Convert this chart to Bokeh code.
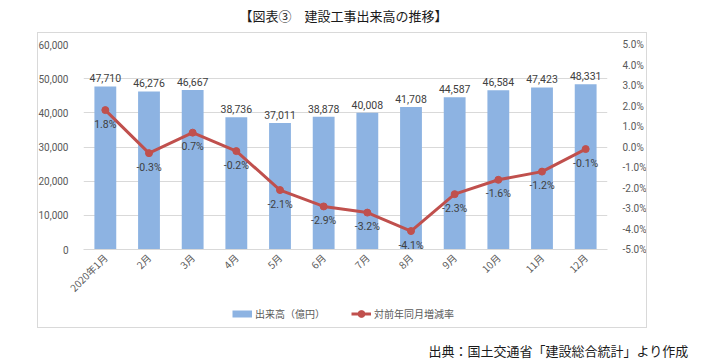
from bokeh.plotting import figure
from bokeh.layouts import column
from bokeh.models import (ColumnDataSource, FactorRange, Range1d, LinearAxis, FixedTicker,
                          NumeralTickFormatter, PrintfTickFormatter, Legend, LegendItem,
                          Label, InlineStyleSheet)
from bokeh.embed import file_html
from bokeh.resources import INLINE
from bokeh.core.properties import value

months = ["2020年1月", "2月", "3月", "4月", "5月", "6月", "7月", "8月", "9月", "10月", "11月", "12月"]
volume = [47710, 46276, 46667, 38736, 37011, 38878, 40008, 41708, 44587, 46584, 47423, 48331]
rate = [1.8, -0.3, 0.7, -0.2, -2.1, -2.9, -3.2, -4.1, -2.3, -1.6, -1.2, -0.1]
left_ticks = [0, 10000, 20000, 30000, 40000, 50000, 60000]
right_ticks = [-5, -4, -3, -2, -1, 0, 1, 2, 3, 4, 5]
title_text = "【図表③　建設工事出来高の推移】"
source_text = "出典：国土交通省「建設総合統計」より作成"
bar_name = "出来高（億円）"
line_name = "対前年同月増減率"

JP = "Noto Sans CJK JP"
NUM = "Roboto"
GREY = "#595959"
DARK = "#404040"
BAR = "#8DB3E2"
RED = "#C0504D"
BOX = "#D9D9D9"

W = 715
H_TOP, H_MAIN, H_BOT = 32, 273, 58
NAN = float("nan")


def plain_fig(h):
    f = figure(width=W, height=h, x_range=Range1d(0, W), y_range=Range1d(h, 0),
               output_backend="svg", toolbar_location=None, x_axis_type=None,
               y_axis_type=None, min_border=0, frame_align=False)
    f.outline_line_color = None
    f.xgrid.grid_line_color = None
    f.ygrid.grid_line_color = None
    f.border_fill_color = "white"
    return f


def box_css(top_border, bottom_border, h):
    return InlineStyleSheet(css=(
        ":host { position: relative; }"
        ":host::after { content: ''; position: absolute; left: 37px; top: 0px; "
        f"width: 610px; height: {h}px; border: 1px solid {BOX}; "
        f"border-top: {'1px solid ' + BOX if top_border else 'none'}; "
        f"border-bottom: {'1px solid ' + BOX if bottom_border else 'none'}; "
        "pointer-events: none; box-sizing: border-box; }"))


# ---- title strip ----
pt = plain_fig(H_TOP)
pt.add_layout(Label(x=343, y=15, text=title_text, text_align="center", text_baseline="middle",
                    text_font=JP, text_font_size="13px", text_color="#1a1a1a"))

# ---- main chart ----
src = ColumnDataSource(dict(
    m=months, v=volume, r=rate,
    vl=[f"{x:,}" for x in volume],
    rl=[f"{x:.1f}%" for x in rate],
))

p = figure(width=W, height=H_MAIN, x_range=FactorRange(*months, range_padding=0),
           y_range=Range1d(0, 60000), output_backend="svg", toolbar_location=None,
           min_border_left=83, min_border_right=108, min_border_top=12, min_border_bottom=56,
           frame_align=False)
p.extra_y_ranges = {"pct": Range1d(-5, 5)}
p.outline_line_color = None
p.border_fill_color = "white"
p.xgrid.grid_line_color = None
p.ygrid.grid_line_color = "#D9D9D9"
p.ygrid.ticker = FixedTicker(ticks=left_ticks)

p.vbar(x="m", top="v", width=0.5, source=src, fill_color=BAR, line_color=None)
p.line(x="m", y="r", source=src, y_range_name="pct", line_color=RED, line_width=3)
p.scatter(x="m", y="r", source=src, y_range_name="pct", size=7, fill_color=RED, line_color=RED)

p.text(x="m", y="v", text="vl", source=src, text_align="center", text_baseline="bottom",
       y_offset=-4, text_font=value(NUM), text_font_size="10.5px", text_color=DARK)
p.text(x="m", y="r", text="rl", source=src, y_range_name="pct", text_align="center",
       text_baseline="middle", y_offset=14, text_font=value(NUM), text_font_size="10.5px",
       text_color=DARK)

ya = p.yaxis[0]
ya.ticker = FixedTicker(ticks=left_ticks)
ya.formatter = NumeralTickFormatter(format="0,0")
ra = LinearAxis(y_range_name="pct", ticker=FixedTicker(ticks=right_ticks),
                formatter=PrintfTickFormatter(format="%.1f%%"))
p.add_layout(ra, "right")
for ax in (ya, ra):
    ax.axis_line_color = None
    ax.major_tick_line_color = None
    ax.minor_tick_line_color = None
    ax.major_label_standoff = 9
    ax.major_label_text_font = NUM
    ax.major_label_text_font_size = "10px"
    ax.major_label_text_color = GREY

xa = p.xaxis[0]
xa.axis_line_color = "#D9D9D9"
xa.major_tick_line_color = None
xa.minor_tick_line_color = None
xa.major_tick_out = 0
xa.major_label_orientation = 0.785398
xa.major_label_standoff = 6
xa.major_label_text_font = JP
xa.major_label_text_font_size = "10px"
xa.major_label_text_color = GREY

p.stylesheets = [box_css(True, False, H_MAIN)]

# ---- legend + source strip ----
pb = plain_fig(H_BOT)
proxy = ColumnDataSource(dict(x=[NAN], y=[NAN]))
lg_bar = pb.line(x="x", y="y", source=proxy, line_color=BAR, line_width=7)
lg_line = pb.line(x="x", y="y", source=proxy, line_color=RED, line_width=3)
lg_pt = pb.scatter(x="x", y="y", source=proxy, size=7, fill_color=RED, line_color=RED)
legend = Legend(items=[LegendItem(label=bar_name, renderers=[lg_bar]),
                       LegendItem(label=line_name, renderers=[lg_line, lg_pt])],
                orientation="horizontal", location=(232, 41), padding=0, margin=0,
                spacing=26, glyph_width=20, glyph_height=17, label_height=10,
                label_standoff=3, label_text_font=JP, label_text_font_size="10px",
                label_text_color=GREY, border_line_color=None, background_fill_alpha=0)
pb.add_layout(legend, "center")
pb.add_layout(Label(x=688, y=45, text=source_text, text_align="right", text_baseline="middle",
                    text_font=JP, text_font_size="13px", text_color="#1a1a1a"))
pb.stylesheets = [box_css(False, True, 23)]

layout = column(pt, p, pb, spacing=0)
open("out.html", "w").write(file_html(layout, INLINE))
